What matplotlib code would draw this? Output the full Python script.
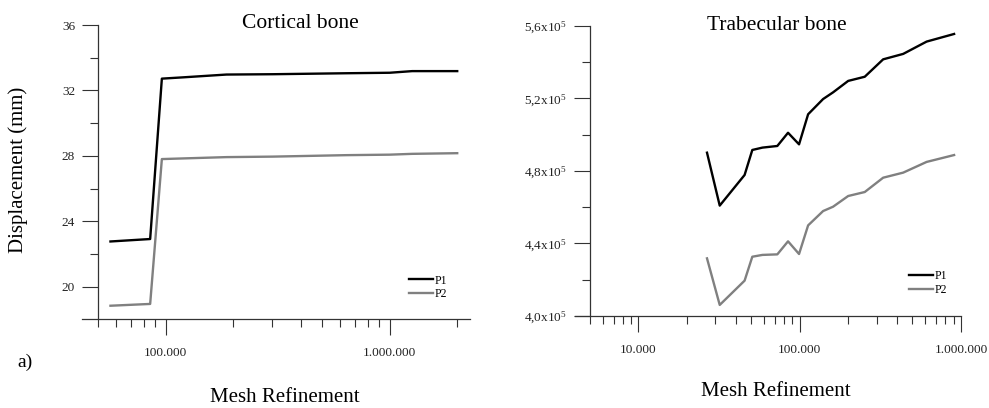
import matplotlib
matplotlib.use("Agg")
import matplotlib.pyplot as plt
from matplotlib.ticker import FixedLocator, FuncFormatter, NullFormatter

plt.rcParams['font.family'] = ['Liberation Serif', 'DejaVu Serif']
plt.rcParams['mathtext.fontset'] = 'custom'
plt.rcParams['mathtext.rm'] = 'Liberation Serif'
plt.rcParams['mathtext.it'] = 'Liberation Serif'
plt.rcParams['mathtext.bf'] = 'Liberation Serif'

# cortical bone (displacement in mm)
cort_mesh = [56800, 85400, 96300, 120000, 187000, 300000, 641000, 1000000, 1260000, 2000000]
cort_p1 = [22.76, 22.91, 32.72, 32.80, 32.97, 32.99, 33.05, 33.08, 33.18, 33.18]
cort_p2 = [18.83, 18.94, 27.80, 27.84, 27.92, 27.95, 28.04, 28.07, 28.12, 28.16]

# trabecular bone
trab_mesh = [26600, 31900, 45500, 50800, 58700, 72600, 84600, 99000, 112700,
             139600, 161000, 199700, 253000, 329000, 438000, 612000, 906000]
trab_p1 = [490100, 460900, 477800, 491600, 492900, 493800, 501100, 494700, 511300,
           519700, 523400, 529700, 532000, 541600, 544600, 551400, 555600]
trab_p2 = [431800, 406100, 419500, 432700, 433700, 434000, 441200, 434200, 450000,
           457900, 460300, 466200, 468400, 476300, 479100, 485000, 488800]

spine_col = '#333333'


def dotted(v, pos=None):
    return f'{int(round(v)):,}'.replace(',', '.')


def style_axes(ax, x0):
    ax.spines['top'].set_visible(False)
    ax.spines['right'].set_visible(False)
    ax.spines['left'].set_position(('data', x0))
    for s in ('left', 'bottom'):
        ax.spines[s].set_color(spine_col)
        ax.spines[s].set_linewidth(0.9)
    ax.tick_params(which='major', length=11.5, width=0.8, color=spine_col,
                   labelsize=9.5, labelcolor='#222222')
    ax.tick_params(which='minor', length=5.5, width=0.8, color=spine_col)
    ax.tick_params(axis='x', which='major', pad=8.5)
    ax.tick_params(axis='y', which='major', pad=5)
    ax.xaxis.set_major_formatter(FuncFormatter(dotted))
    ax.xaxis.set_minor_formatter(NullFormatter())


fig = plt.figure(figsize=(9.89, 4.08), dpi=100)

# left panel
ax1 = fig.add_axes([0.0829, 0.2174, 0.3923, 0.7213])
ax1.set_xscale('log')
ax1.plot(cort_mesh, cort_p1, color='black', lw=1.7, label='P1')
ax1.plot(cort_mesh, cort_p2, color='#808080', lw=1.7, label='P2')
ax1.set_xlim(42400, 2.28e6)
ax1.set_ylim(18, 36)
style_axes(ax1, 50000)
ax1.xaxis.set_major_locator(FixedLocator([1e5, 1e6]))
ax1.xaxis.set_minor_locator(FixedLocator([5e4, 6e4, 7e4, 8e4, 9e4] +
                                         [k * 1e5 for k in range(2, 10)] + [2e6]))
ax1.yaxis.set_major_locator(FixedLocator([20, 24, 28, 32, 36]))
ax1.yaxis.set_minor_locator(FixedLocator([22, 26, 30, 34]))
ax1.legend(loc='center left', bbox_to_anchor=(409 / 989, 1 - 287.5 / 408),
           bbox_transform=fig.transFigure, frameon=False, fontsize=8.5,
           handlelength=2.0, handletextpad=0.15, labelspacing=0.15,
           borderpad=0, borderaxespad=0)

# right panel
ax2 = fig.add_axes([0.5814, 0.2255, 0.3903, 0.7108])
ax2.set_xscale('log')
ax2.plot(trab_mesh, trab_p1, color='black', lw=1.7, label='P1')
ax2.plot(trab_mesh, trab_p2, color='#808080', lw=1.7, label='P2')
ax2.set_xlim(4040, 1e6)
ax2.set_ylim(400000, 560000)
style_axes(ax2, 5000)
ax2.xaxis.set_major_locator(FixedLocator([1e4, 1e5, 1e6]))
ax2.xaxis.set_minor_locator(FixedLocator([k * 1e3 for k in range(5, 10)] +
                                         [k * 1e4 for k in range(2, 10)] +
                                         [k * 1e5 for k in range(2, 10)]))
ax2.yaxis.set_major_locator(FixedLocator([400000, 440000, 480000, 520000, 560000]))
ax2.yaxis.set_minor_locator(FixedLocator([420000, 460000, 500000, 540000]))
ax2.yaxis.set_major_formatter(FuncFormatter(
    lambda v, pos: f'{v / 1e5:.1f}'.replace('.', ',') + r'x10$^{5}$'))
ax2.legend(loc='center left', bbox_to_anchor=(909 / 989, 1 - 283 / 408),
           bbox_transform=fig.transFigure, frameon=False, fontsize=8.5,
           handlelength=2.0, handletextpad=0.15, labelspacing=0.15,
           borderpad=0, borderaxespad=0)

# titles and labels
fig.text(300 / 989, 1 - 23 / 408, 'Cortical bone', ha='center', va='center', fontsize=15.5)
fig.text(777 / 989, 1 - 26 / 408, 'Trabecular bone', ha='center', va='center', fontsize=15.5)
fig.text(285 / 989, 1 - 398 / 408, 'Mesh Refinement', ha='center', va='center', fontsize=15)
fig.text(776 / 989, 1 - 392 / 408, 'Mesh Refinement', ha='center', va='center', fontsize=15)
fig.text(18 / 989, 1 - 170 / 408, 'Displacement (mm)', ha='center', va='center',
         rotation=90, fontsize=15)
fig.text(25 / 989, 1 - 362 / 408, 'a)', ha='center', va='center', fontsize=14)

fig.savefig('out.png', dpi=100)
